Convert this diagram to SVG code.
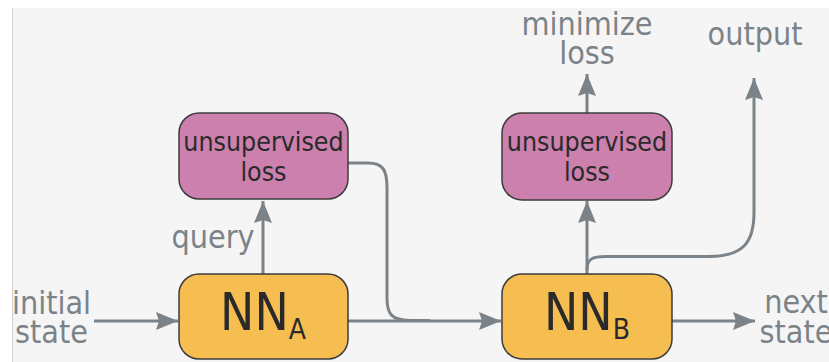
<svg xmlns="http://www.w3.org/2000/svg" width="829" height="362" viewBox="0 0 829 362">
<defs>
<style>
.lbl{font-family:"DejaVu Sans Condensed","DejaVu Sans","Liberation Sans",sans-serif;font-stretch:condensed;font-size:32px;fill:#7b8389;text-anchor:middle}
.btxt{font-family:"DejaVu Sans Condensed","DejaVu Sans","Liberation Sans",sans-serif;font-stretch:condensed;fill:#2a2a2a;text-anchor:middle}
.conn{fill:none;stroke:#7b8389;stroke-width:3}
.yel{fill:#f6be50;stroke:#3c3c3c;stroke-width:1.5}
.pink{fill:#cc80ad;stroke:#3c3c3c;stroke-width:1.5}
</style>
<marker id="ah" markerUnits="userSpaceOnUse" markerWidth="24" markerHeight="20" refX="22" refY="9" orient="auto" viewBox="0 0 24 20">
<path d="M0,0 L22,9 L0,18 L3,9 Z" fill="#7b8389"/>
</marker>
</defs>
<rect x="12" y="8" width="817" height="354" fill="#f5f5f5"/>
<line x1="12.5" y1="8" x2="12.5" y2="362" stroke="#d0d0d0" stroke-width="1"/>

<g id="connectors">
<path class="conn" d="M94,321 H178" marker-end="url(#ah)"/>
<path class="conn" d="M263,274 V201" marker-end="url(#ah)"/>
<path class="conn" d="M348,321 H501" marker-end="url(#ah)"/>
<path class="conn" d="M348,163 H368 C383,163 387,170 387,188 V298 C387,315 392,320 410,320.5 H430"/>
<path class="conn" d="M672,321 H755" marker-end="url(#ah)"/>
<path class="conn" d="M587,274 V201" marker-end="url(#ah)"/>
<path class="conn" d="M587,113 V74" marker-end="url(#ah)"/>
<path class="conn" d="M587,270 C587,259 592,256.5 606,256.5 H708 C744,256.5 754,242 754,212 V78" marker-end="url(#ah)"/>
</g>

<g id="nn-a">
<rect class="yel" x="179" y="274" width="169" height="85" rx="20" ry="20"/>
<text class="btxt" x="263" y="330" font-size="51">NN<tspan font-size="28" dy="9">A</tspan></text>
</g>
<g id="nn-b">
<rect class="yel" x="502" y="274" width="170" height="85" rx="20" ry="20"/>
<text class="btxt" x="587" y="330" font-size="51">NN<tspan font-size="28" dy="9">B</tspan></text>
</g>
<g id="loss-a">
<rect class="pink" x="179" y="113" width="169" height="86" rx="20" ry="20"/>
<text class="btxt" x="263.5" y="151" font-size="26.5">unsupervised</text>
<text class="btxt" x="263.5" y="181" font-size="26.5">loss</text>
</g>
<g id="loss-b">
<rect class="pink" x="502" y="113" width="170" height="87" rx="20" ry="20"/>
<text class="btxt" x="587" y="151" font-size="26.5">unsupervised</text>
<text class="btxt" x="587" y="181" font-size="26.5">loss</text>
</g>

<g id="labels">
<text class="lbl" x="51.5" y="314">initial</text>
<text class="lbl" x="51.5" y="343">state</text>
<text class="lbl" x="796" y="313">next</text>
<text class="lbl" x="796" y="343">state</text>
<text class="lbl" x="213" y="248">query</text>
<text class="lbl" x="587" y="35">minimize</text>
<text class="lbl" x="587" y="64">loss</text>
<text class="lbl" x="755" y="45">output</text>
</g>
</svg>
